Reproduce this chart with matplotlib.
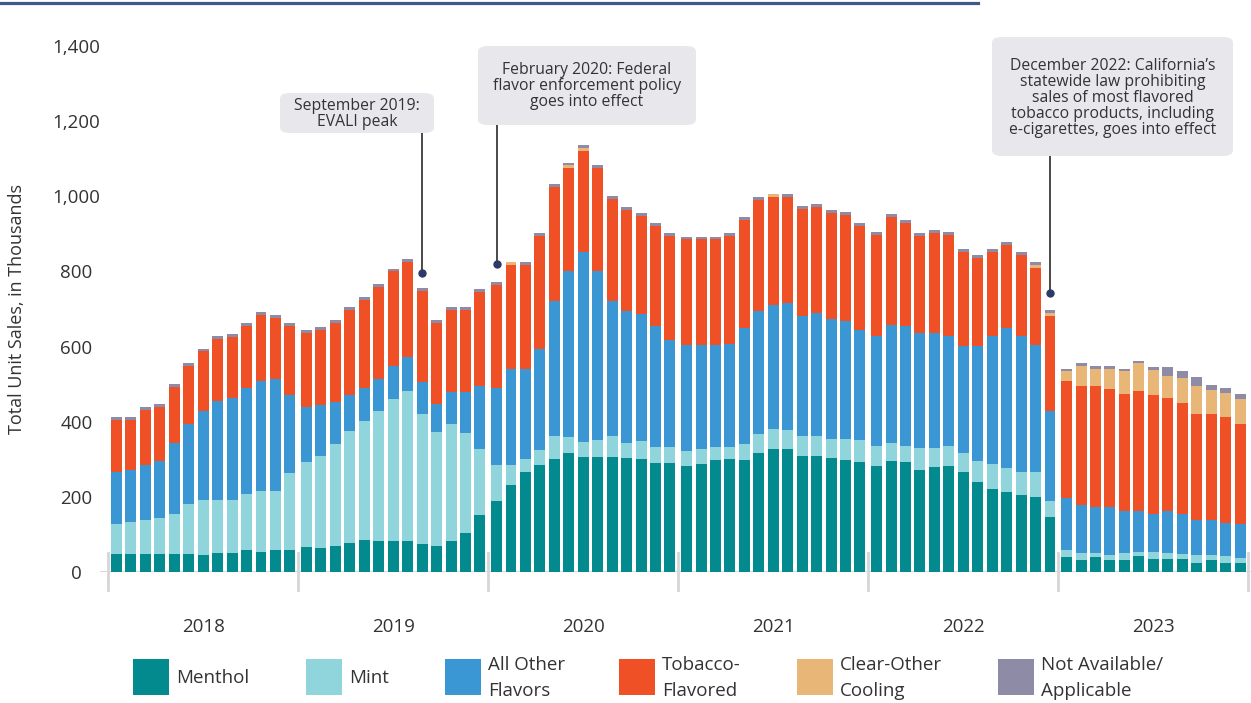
import numpy as np
import matplotlib.pyplot as plt
from matplotlib.patches import FancyBboxPatch, Rectangle
from matplotlib.lines import Line2D

plt.rcParams['font.family'] = ['Open Sans', 'DejaVu Sans']

W, H = 1251, 703

years = ['2018', '2019', '2020', '2021', '2022', '2023']
periods = 13  # 4-week periods per year

# unit sales in thousands, one value per 4-week period
menthol = [48, 48, 48, 48, 48, 48, 45, 51, 51, 59, 53, 59, 59,
           67, 64, 69, 77, 85, 83, 83, 83, 75, 69, 83, 104, 152,
           189, 232, 266, 285, 301, 317, 306, 306, 306, 303, 301, 290, 290,
           282, 287, 298, 301, 298, 317, 327, 327, 309, 309, 303, 298, 293,
           282, 295, 293, 272, 280, 282, 266, 240, 221, 213, 205, 200, 146,
           40, 32, 40, 32, 32, 43, 35, 35, 35, 24, 32, 24, 24]
mint = [80, 85, 90, 96, 106, 133, 147, 141, 141, 149, 163, 157, 205,
        226, 245, 272, 298, 317, 346, 378, 399, 346, 304, 311, 266, 175,
        96, 53, 35, 40, 61, 42, 40, 45, 56, 40, 48, 43, 43,
        40, 40, 35, 32, 43, 50, 54, 51, 53, 53, 51, 56, 58,
        53, 48, 42, 58, 50, 53, 51, 55, 66, 64, 61, 66, 43,
        19, 19, 11, 13, 19, 10, 18, 16, 13, 21, 13, 19, 13]
other = [139, 139, 147, 151, 189, 214, 237, 263, 272, 283, 292, 298, 207,
         146, 136, 112, 96, 89, 85, 88, 90, 86, 75, 86, 110, 169,
         206, 254, 238, 269, 359, 442, 507, 450, 359, 352, 339, 323, 285,
         282, 277, 271, 275, 309, 328, 330, 338, 320, 327, 319, 314, 294,
         294, 315, 321, 306, 306, 294, 285, 307, 342, 373, 363, 338, 240,
         139, 127, 122, 128, 111, 109, 102, 111, 107, 94, 94, 87, 92]
tobacco = [138, 133, 147, 144, 149, 154, 158, 165, 162, 165, 176, 163, 185,
           197, 199, 210, 227, 234, 245, 251, 254, 241, 215, 218, 218, 250,
           273, 278, 278, 301, 304, 275, 267, 274, 272, 269, 260, 265, 277,
           281, 281, 281, 287, 288, 296, 287, 282, 284, 283, 283, 282, 277,
           268, 287, 273, 259, 266, 268, 251, 235, 224, 220, 215, 205, 252,
           310, 317, 322, 314, 312, 320, 316, 301, 295, 282, 282, 283, 265]
clear = [0, 0, 0, 0, 0, 0, 0, 0, 0, 0, 0, 0, 0,
         0, 0, 0, 0, 0, 0, 0, 0, 0, 0, 0, 0, 0,
         0, 8, 0, 0, 0, 6, 8, 0, 0, 0, 0, 0, 0,
         0, 0, 0, 0, 0, 0, 8, 0, 0, 0, 0, 0, 0,
         0, 0, 0, 0, 0, 0, 0, 0, 0, 0, 0, 8, 8,
         27, 53, 45, 53, 61, 74, 67, 59, 66, 74, 63, 63, 66]
not_avail = [8, 8, 7, 8, 8, 7, 7, 8, 8, 8, 8, 8, 8,
             8, 8, 8, 7, 7, 8, 7, 7, 8, 8, 7, 7, 7,
             8, 0, 8, 7, 8, 7, 9, 8, 8, 8, 7, 8, 7,
             7, 7, 7, 7, 7, 7, 0, 8, 8, 8, 7, 8, 7,
             8, 8, 8, 7, 8, 8, 7, 7, 7, 8, 8, 8, 8,
             5, 8, 8, 8, 5, 6, 8, 24, 19, 24, 14, 14, 14]

labels = ['Menthol', 'Mint', 'All Other\nFlavors', 'Tobacco-\nFlavored',
          'Clear-Other\nCooling', 'Not Available/\nApplicable']
colors = ['#028a8f', '#90d5dc', '#3b97d3', '#f05025', '#e8b677', '#8e8ba6']
stack = [menthol, mint, other, tobacco, clear, not_avail]

notes = ['September 2019:\nEVALI peak',
         'February 2020: Federal\nflavor enforcement policy\ngoes into effect',
         'December 2022: California\u2019s\nstatewide law prohibiting\n'
         'sales of most flavored\ntobacco products, including\n'
         'e-cigarettes, goes into effect']
note_bar = [21, 26, 64]
note_gap = [40, 48, 46]
# boxes in pixels: left, top, right, bottom
note_box = [(280, 93, 434, 133), (478, 46, 696, 125), (992, 37, 1233, 156)]

ystep = 13.15  # a year slot is a bit wider than 13 bars
x = np.array([y * ystep + j for y in range(len(years)) for j in range(periods)])

fig = plt.figure(figsize=(W / 100, H / 100), dpi=100)
ax = fig.add_axes([100 / W, (H - 572) / H, 1151 / W, 526 / H])

bottom = np.zeros(len(x))
for vals, c in zip(stack, colors):
    vals = np.array(vals, dtype=float)
    ax.bar(x, vals, bottom=bottom, width=0.76, color=c, linewidth=0, zorder=3)
    bottom += vals
total = bottom

ax.set_xlim(-1.142, 78.51)
ax.set_ylim(0, 1400)
for s in ax.spines.values():
    s.set_visible(False)

ax.axhline(0, color='#d6d6d6', lw=2, zorder=2)
for k in range(len(years) + 1):
    xd = k * ystep - 0.575
    ax.plot([xd, xd], [50, -48], color='#d6d6d6', lw=2, clip_on=False, zorder=1)

ax.set_yticks(range(0, 1401, 200))
ax.set_yticklabels(['{:,}'.format(v) for v in range(0, 1401, 200)])
ax.tick_params(axis='y', length=0, pad=17, labelsize=13.5, labelcolor='#333333')
for t in ax.get_yticklabels():
    t.set_horizontalalignment('center')
ax.set_xticks([y * ystep + 6 for y in range(len(years))])
ax.set_xticklabels(years)
ax.tick_params(axis='x', length=0, pad=33, labelsize=13.5, labelcolor='#333333')
ax.set_ylabel('Total Unit Sales, in Thousands', fontsize=13, color='#333333', labelpad=19)

inv = ax.transData.inverted()
for txt, bi, gap, (l, t, r, b) in zip(notes, note_bar, note_gap, note_box):
    box = FancyBboxPatch((l / W, 1 - b / H), (r - l) / W, (b - t) / H,
                         boxstyle='round,pad=0,rounding_size=0.008',
                         transform=fig.transFigure, facecolor='#e8e7ec',
                         edgecolor='none', zorder=5)
    fig.add_artist(box)
    fig.text((l + r) / 2 / W, 1 - (t + b) / 2 / H - 1 / H, txt, ha='center', va='center',
             fontsize=11.3, color='#333333', linespacing=1.0, zorder=6)
    ydot = total[bi] + gap
    ytop = inv.transform((0, H - b))[1]
    ax.plot([x[bi], x[bi]], [ydot, ytop], color='#3a3a3a', lw=1.3,
            clip_on=False, zorder=4)
    ax.plot(x[bi], ydot, 'o', ms=5, color='#2b3a67', clip_on=False, zorder=4)

# top rule
fig.add_artist(Line2D([0, 978 / W], [1 - 3 / H, 1 - 3 / H], color='#3d5a88', lw=2.3))

# legend
leg_x = [133, 306, 445, 619, 797, 998]
for lx, lab, c in zip(leg_x, labels, colors):
    fig.add_artist(Rectangle((lx / W, 1 - 695 / H), 36 / W, 36 / H,
                             transform=fig.transFigure, facecolor=c, edgecolor='none'))
    fig.text((lx + 43) / W, 1 - 678 / H, lab, ha='left', va='center',
             fontsize=13.5, color='#333333', linespacing=1.5)

fig.savefig('out.png', dpi=100)
